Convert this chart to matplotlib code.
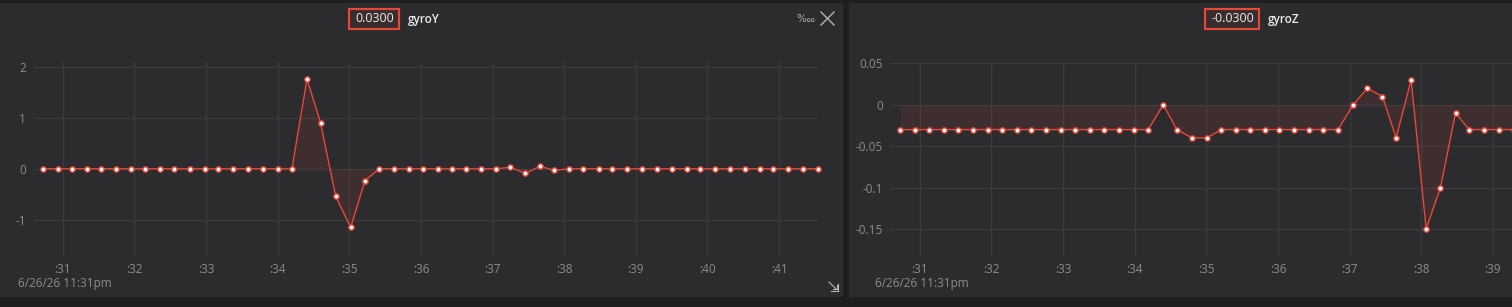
import matplotlib
matplotlib.use('Agg')
import matplotlib.pyplot as plt
from matplotlib.patches import Rectangle
from matplotlib.lines import Line2D

W, H = 1512, 307

# sample times (seconds past 11:31pm) and readings
t_y = [30.73, 30.94, 31.13, 31.34, 31.54, 31.75, 31.96, 32.15, 32.36, 32.56,
       32.77, 32.98, 33.17, 33.38, 33.58, 33.79, 34.00, 34.20, 34.41, 34.60,
       34.81, 35.02, 35.22, 35.42, 35.62, 35.83, 36.03, 36.24, 36.44, 36.63,
       36.84, 37.05, 37.25, 37.46, 37.66, 37.86, 38.07, 38.27, 38.48, 38.67,
       38.88, 39.09, 39.29, 39.50, 39.71, 39.90, 40.11, 40.31, 40.52, 40.73,
       40.92, 41.13, 41.33, 41.54]
gyro_y = [0, 0, 0, 0, 0, 0, 0, 0, 0, 0, 0, 0, 0, 0, 0, 0, 0, 0,
          1.76, 0.90, -0.54, -1.15, -0.23,
          0, 0, 0, 0, 0, 0, 0, 0, 0,
          0.03, -0.09, 0.05, -0.03,
          0, 0, 0, 0, 0, 0, 0, 0, 0, 0, 0, 0, 0, 0, 0, 0, 0, 0]

t_z = [30.73, 30.93, 31.13, 31.34, 31.54, 31.74, 31.95, 32.15, 32.36, 32.55,
       32.76, 32.97, 33.17, 33.38, 33.57, 33.78, 33.99, 34.19, 34.40, 34.59,
       34.80, 35.01, 35.21, 35.42, 35.61, 35.82, 36.02, 36.23, 36.44, 36.63,
       36.84, 37.05, 37.25, 37.46, 37.65, 37.86, 38.07, 38.27, 38.48, 38.67,
       38.88, 39.09, 39.29]
gyro_z = [-0.03, -0.03, -0.03, -0.03, -0.03, -0.03, -0.03, -0.03, -0.03,
          -0.03, -0.03, -0.03, -0.03, -0.03, -0.03, -0.03, -0.03, -0.03,
          0.0, -0.03, -0.04, -0.04,
          -0.03, -0.03, -0.03, -0.03, -0.03, -0.03, -0.03, -0.03, -0.03,
          0.0, 0.02, 0.01, -0.04, 0.03, -0.15, -0.10, -0.01,
          -0.03, -0.03, -0.03, -0.03]

x_ticks = [31, 32, 33, 34, 35, 36, 37, 38, 39, 40, 41]
x_labels = [':31', ':32', ':33', ':34', ':35', ':36', ':37', ':38', ':39', ':40', ':41']
yticks_y = [-1, 0, 1, 2]
ylabels_y = ['-1', '0', '1', '2']
yticks_z = [-0.15, -0.1, -0.05, 0, 0.05]
ylabels_z = ['-0.15', '-0.1', '-0.05', '0', '0.05']

BG = '#1e1e1f'
PANEL = '#2c2c2e'
GRID = '#3a3a3c'
TXT = '#8c8c8c'
RED = '#e8473a'

plt.rcParams['font.family'] = ['Open Sans', 'DejaVu Sans']

fig = plt.figure(figsize=(W / 100, H / 100), dpi=100)
fig.patch.set_facecolor(BG)


def fx(x):
    return x / W


def fy(y):
    return 1 - y / H


# panels (behind the axes)
fig.patches.append(Rectangle((fx(0), fy(296)), fx(842), 293 / H,
                             transform=fig.transFigure, color=PANEL, zorder=-5))
fig.patches.append(Rectangle((fx(849), fy(296)), fx(700), 293 / H,
                             transform=fig.transFigure, color=PANEL, zorder=-5))


def make_axes(left_px, t, v, ylim, yticks, ylabels, nx):
    ax = fig.add_axes([fx(left_px), fy(256), 784 / W, 193 / H])
    ax.set_facecolor('none')
    ax.set_xlim(30.585, 41.53)
    ax.set_ylim(*ylim)
    ax.set_xticks(x_ticks[:nx])
    ax.set_xticklabels(x_labels[:nx])
    ax.set_yticks(yticks)
    ax.set_yticklabels(ylabels)
    ax.tick_params(length=0, colors=TXT, labelsize=8.5, pad=5)
    ax.grid(True, color=GRID, linewidth=1)
    ax.set_axisbelow(True)
    for s in ax.spines.values():
        s.set_visible(False)
    ax.fill_between(t, v, 0, color=RED, alpha=0.1, linewidth=0)
    ax.plot(t, v, color=RED, linewidth=1, marker='o', markersize=3.8,
            markerfacecolor='white', markeredgecolor=RED, markeredgewidth=1,
            clip_on=False)
    return ax


make_axes(33, t_y, gyro_y, (-1.71, 2.075), yticks_y, ylabels_y, 11)
make_axes(890, t_z, gyro_z, (-0.1828, 0.0505), yticks_z, ylabels_z, 9)

# dates
fig.text(fx(18), fy(284), '6/26/26 11:31pm', color=TXT, fontsize=8.5, va='center')
fig.text(fx(875), fy(284), '6/26/26 11:31pm', color=TXT, fontsize=8.5, va='center')


def header(cx, w, value, name):
    fig.patches.append(Rectangle((fx(cx - w / 2), fy(29)), w / W, 20 / H,
                                 transform=fig.transFigure, facecolor='#3a2d2d',
                                 edgecolor=RED, linewidth=1.5, zorder=2))
    fig.text(fx(cx + 1), fy(19), value, color='#ececec', fontsize=9,
             ha='center', va='center', zorder=3)
    fig.text(fx(cx + w / 2 + 9), fy(19), name, color='#ececec', fontsize=8.5,
             fontweight='semibold', ha='left', va='center', zorder=3)


header(374, 50, '0.0300', 'gyroY')
header(1231.5, 54, '-0.0300', 'gyroZ')

# per ten thousand sign and close cross
fig.text(fx(805), fy(19), '\u2031', color='#b4b4b4', fontsize=7.5,
         ha='center', va='center', family=['DejaVu Sans'])
for xs, ys in [([821, 834], [12, 25]), ([821, 834], [25, 12])]:
    fig.lines.append(Line2D([fx(x) for x in xs], [fy(y) for y in ys],
                            transform=fig.transFigure, color='#b4b4b4', linewidth=1))

# resize icon
for xs, ys in [([829, 836], [282, 289]), ([833, 837], [289, 289]),
               ([837, 837], [285, 289]), ([831, 838], [291, 291]),
               ([838, 838], [284, 291])]:
    fig.lines.append(Line2D([fx(x) for x in xs], [fy(y) for y in ys],
                            transform=fig.transFigure, color='#b4b4b4', linewidth=0.8))

fig.savefig('out.png', dpi=100, facecolor=BG)
